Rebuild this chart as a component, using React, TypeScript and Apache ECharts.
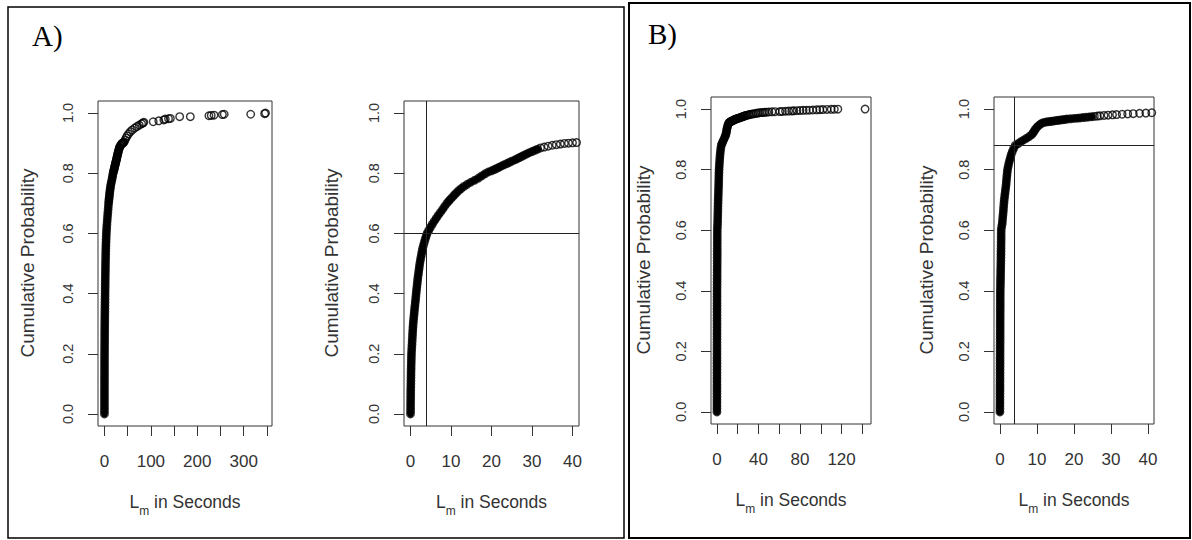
import React, { useEffect, useRef } from "react";
import * as echarts from "echarts";

// ---------- DATA ----------
// Panel A: empirical CDF of L_m (seconds, cumulative probability)
// dense stretch (prints as a solid band)
const aBody: [number, number][] = [
  [0.0, 0.0], [0.02, 0.01], [0.03, 0.02], [0.03, 0.03], [0.04, 0.04], [0.05, 0.05], [0.06, 0.06], [0.06, 0.07],
  [0.07, 0.08], [0.08, 0.09], [0.1, 0.1], [0.11, 0.11], [0.12, 0.12], [0.13, 0.13], [0.14, 0.14], [0.16, 0.15],
  [0.17, 0.16], [0.19, 0.17], [0.21, 0.18], [0.23, 0.19], [0.25, 0.2], [0.29, 0.21], [0.33, 0.22], [0.37, 0.23],
  [0.41, 0.24], [0.45, 0.25], [0.49, 0.26], [0.53, 0.27], [0.58, 0.28], [0.62, 0.29], [0.67, 0.3], [0.74, 0.31],
  [0.81, 0.32], [0.88, 0.33], [0.95, 0.34], [1.02, 0.35], [1.1, 0.36], [1.18, 0.37], [1.26, 0.38], [1.33, 0.39],
  [1.4, 0.4], [1.48, 0.41], [1.56, 0.42], [1.64, 0.43], [1.72, 0.44], [1.8, 0.45], [1.9, 0.46], [2.0, 0.47],
  [2.1, 0.48], [2.2, 0.49], [2.3, 0.5], [2.43, 0.51], [2.57, 0.52], [2.71, 0.53], [2.85, 0.54], [3.0, 0.55],
  [3.2, 0.56], [3.4, 0.57], [3.62, 0.58], [3.85, 0.59], [4.1, 0.6], [4.5, 0.61], [4.9, 0.62], [5.35, 0.63],
  [5.85, 0.64], [6.35, 0.65], [6.85, 0.66], [7.4, 0.67], [7.95, 0.68], [8.45, 0.69], [9.0, 0.7], [9.45, 0.707],
  [9.9, 0.714], [10.4, 0.721], [10.85, 0.728], [11.35, 0.735], [11.9, 0.742], [12.5, 0.749], [13.2, 0.756],
  [14.0, 0.763], [14.9, 0.77], [15.9, 0.777], [16.8, 0.784], [17.6, 0.791], [18.4, 0.798], [19.2, 0.804],
  [20.0, 0.808], [20.7, 0.812], [21.3, 0.816], [21.9, 0.82], [22.5, 0.824], [23.1, 0.828], [23.8, 0.832],
  [24.4, 0.836], [25.0, 0.84], [25.7, 0.844], [26.3, 0.848], [26.9, 0.852], [27.5, 0.856], [28.1, 0.86],
  [28.7, 0.864], [29.3, 0.868], [30.0, 0.872], [30.7, 0.876], [31.4, 0.88],
];
// looser chain of circles
const aChain: [number, number][] = [
  [32.1, 0.884], [33.0, 0.887], [34.0, 0.89], [35.0, 0.893], [36.0, 0.895], [37.0, 0.897], [38.0, 0.899],
  [39.0, 0.9], [40.0, 0.901], [41.0, 0.902], [42.5, 0.904], [44.5, 0.91], [46.5, 0.917], [49.0, 0.924],
  [52.0, 0.931], [56.0, 0.938], [60.0, 0.944], [65.0, 0.95], [70.0, 0.955], [75.0, 0.96], [80.0, 0.964],
  [83.0, 0.967], [85.0, 0.969],
];
// sparse tail
const aTail: [number, number][] = [
  [105, 0.971], [117, 0.974], [128, 0.977], [131, 0.98], [138, 0.981], [142, 0.982], [162, 0.988], [185, 0.988],
  [225, 0.991], [230, 0.992], [236, 0.993], [254, 0.995], [258, 0.996], [315, 0.996], [345, 0.998], [347, 1.0],
];

// Panel B: empirical CDF of L_m (seconds, cumulative probability)
const bBody: [number, number][] = [
  [0.0, 0.0], [0.0, 0.01], [0.0, 0.02], [0.01, 0.03], [0.01, 0.04], [0.01, 0.05], [0.01, 0.06], [0.02, 0.07],
  [0.02, 0.08], [0.02, 0.09], [0.02, 0.1], [0.03, 0.11], [0.03, 0.12], [0.03, 0.13], [0.03, 0.14], [0.04, 0.15],
  [0.04, 0.16], [0.04, 0.17], [0.04, 0.18], [0.05, 0.19], [0.05, 0.2], [0.05, 0.21], [0.05, 0.22], [0.06, 0.23],
  [0.06, 0.24], [0.06, 0.25], [0.06, 0.26], [0.07, 0.27], [0.07, 0.28], [0.07, 0.29], [0.07, 0.3], [0.08, 0.31],
  [0.08, 0.32], [0.08, 0.33], [0.08, 0.34], [0.09, 0.35], [0.09, 0.36], [0.09, 0.37], [0.09, 0.38], [0.1, 0.39],
  [0.1, 0.4], [0.12, 0.41], [0.14, 0.42], [0.15, 0.43], [0.17, 0.44], [0.18, 0.45], [0.2, 0.46], [0.21, 0.47],
  [0.23, 0.48], [0.24, 0.49], [0.26, 0.5], [0.27, 0.51], [0.28, 0.52], [0.29, 0.53], [0.3, 0.54], [0.31, 0.55],
  [0.32, 0.56], [0.33, 0.57], [0.33, 0.58], [0.34, 0.59], [0.35, 0.6], [0.45, 0.61], [0.6, 0.62], [0.68, 0.63],
  [0.75, 0.64], [0.82, 0.65], [0.9, 0.66], [0.96, 0.67], [1.02, 0.68], [1.09, 0.69], [1.16, 0.7], [1.26, 0.71],
  [1.36, 0.72], [1.46, 0.73], [1.56, 0.74], [1.66, 0.75], [1.73, 0.76], [1.8, 0.77], [1.88, 0.78], [1.96, 0.79],
  [2.05, 0.8], [2.22, 0.81], [2.4, 0.82], [2.6, 0.83], [2.82, 0.84], [3.05, 0.85], [3.35, 0.86], [3.7, 0.87],
  [4.15, 0.88], [4.9, 0.886], [5.6, 0.892], [6.4, 0.898], [7.25, 0.904], [8.0, 0.91], [8.6, 0.916], [9.0, 0.922],
  [9.3, 0.928], [9.6, 0.934], [10.0, 0.94], [10.4, 0.945], [10.9, 0.95], [11.4, 0.954], [12.2, 0.957],
  [12.8, 0.958], [13.5, 0.959], [14.0, 0.96], [14.6, 0.961], [15.2, 0.962], [15.8, 0.963], [16.4, 0.964],
  [17.0, 0.965], [17.5, 0.966], [18.1, 0.967], [19.0, 0.968], [19.9, 0.969], [20.8, 0.97], [21.6, 0.971],
  [22.4, 0.972], [23.2, 0.973], [24.0, 0.974], [24.8, 0.975],
];
const bChain: [number, number][] = [
  [25.5, 0.976], [26.3, 0.977], [27.0, 0.978], [28.1, 0.979], [29.2, 0.98], [30.4, 0.981], [31.5, 0.982],
  [33.0, 0.983], [34.5, 0.984], [36.0, 0.985], [37.7, 0.986], [39.4, 0.987], [41.0, 0.988],
];
const bTail: [number, number][] = [
  [43, 0.9885], [44.6, 0.989], [46, 0.9895], [47.8, 0.99], [50, 0.9905], [53, 0.991], [56, 0.9915], [60.6, 0.992],
  [63, 0.9925], [66, 0.993], [69, 0.9935], [72, 0.994], [74, 0.9945], [77, 0.995], [80, 0.9955], [83, 0.996],
  [86, 0.9962], [89, 0.9965], [92.4, 0.997], [96, 0.9975], [99, 0.998], [102, 0.9985], [106, 0.999],
  [110, 0.9992], [113, 0.9995], [116.4, 0.9997], [142.6, 1.0],
];

// reference lines (abline) in the zoomed plots
const aCutSeconds = 4;
const aCutProb = 0.6;
const bCutSeconds = 4;
const bCutProb = 0.88;

// tick values
const probTicks = [0, 0.2, 0.4, 0.6, 0.8, 1.0];
const aFullTicks = [0, 50, 100, 150, 200, 250, 300, 350];
const aFullLabels = [0, 100, 200, 300];
const zoomTicks = [0, 10, 20, 30, 40];
const bFullTicks = [0, 20, 40, 60, 80, 100, 120, 140];
const bFullLabels = [0, 40, 80, 120];

const panelTitles = ["A)", "B)"];
const yTitle = "Cumulative Probability";

// ---------- CHART ----------
const FONT = "Liberation Sans, Arial, sans-serif";
const TXT = "#333";

function buildOption() {
  const aData = [...aBody, ...aChain, ...aTail];
  const bData = [...bBody, ...bChain, ...bTail];
  const ecdfRange = (d: [number, number][]) => {
    const xs = d.map((p) => p[0]);
    const lo = Math.min(...xs);
    const hi = Math.max(...xs);
    const pad = (hi - lo) * 0.04;
    return [lo - pad, hi + pad];
  };
  const [aMin, aMax] = ecdfRange(aData);
  const [bMin, bMax] = ecdfRange(bData);
  const zMin = -40 * 0.04;
  const zMax = 40 * 1.04;

  const grids = [
    { left: 98, top: 101, width: 174, height: 325 },
    { left: 404, top: 101, width: 175, height: 325 },
    { left: 711, top: 97, width: 160, height: 327 },
    { left: 994, top: 97, width: 160, height: 327 },
  ];

  const xAxisDef = (gi: number, min: number, max: number, ticks: number[], labels: number[]) => ({
    type: "value",
    gridIndex: gi,
    min,
    max,
    splitLine: { show: false },
    axisLine: { show: false, onZero: false },
    axisTick: { show: true, length: 10, customValues: ticks, lineStyle: { color: TXT, width: 1 } },
    axisLabel: {
      show: true,
      customValues: labels,
      margin: 27,
      fontSize: 17,
      fontFamily: FONT,
      color: TXT,
      formatter: (v: number) => String(v),
    },
  });
  const yAxisDef = (gi: number) => ({
    type: "value",
    gridIndex: gi,
    min: -0.04,
    max: 1.04,
    splitLine: { show: false },
    axisLine: { show: false, onZero: false },
    axisTick: { show: true, length: 10, customValues: probTicks, lineStyle: { color: TXT, width: 1 } },
    axisLabel: {
      show: true,
      customValues: probTicks,
      rotate: 90,
      margin: 23,
      fontSize: 14.5,
      fontFamily: FONT,
      color: TXT,
      formatter: (v: number) => v.toFixed(1),
    },
  });

  const pointStyle = {
    symbol: "circle",
    symbolSize: 7.5,
    itemStyle: { color: "rgba(0,0,0,0)", borderColor: "#000", borderWidth: 1.4 },
  };
  const refLines = (sx: number, sp: number) => ({
    silent: true,
    symbol: ["none", "none"],
    label: { show: false },
    lineStyle: { color: "#222", width: 1, type: "solid" },
    data: [{ xAxis: sx }, { yAxis: sp }],
  });
  // the densest stretch of an ECDF prints as a solid black band of overlapping circles
  const band = (idx: number, data: [number, number][]) => ({
    type: "line",
    xAxisIndex: idx,
    yAxisIndex: idx,
    data,
    showSymbol: false,
    symbol: "none",
    lineStyle: { color: "#000", width: 6.5, cap: "round", join: "round" },
    z: 1,
  });

  const series: any[] = [
    band(0, aBody),
    band(1, aBody),
    band(2, bBody),
    band(3, bBody),
    { type: "scatter", xAxisIndex: 0, yAxisIndex: 0, data: aData, ...pointStyle, z: 2 },
    { type: "scatter", xAxisIndex: 1, yAxisIndex: 1, data: aData, ...pointStyle, z: 2, markLine: refLines(aCutSeconds, aCutProb) },
    { type: "scatter", xAxisIndex: 2, yAxisIndex: 2, data: bData, ...pointStyle, z: 2 },
    { type: "scatter", xAxisIndex: 3, yAxisIndex: 3, data: bData, ...pointStyle, z: 2, markLine: refLines(bCutSeconds, bCutProb) },
  ].map((s) => ({ ...s, clip: true, silent: true, emphasis: { disabled: true } }));

  const yTitleText = (x: number, y: number) => ({
    type: "text",
    x,
    y,
    rotation: Math.PI / 2,
    style: { text: yTitle, fontSize: 19, fontFamily: FONT, fill: TXT, align: "center", verticalAlign: "middle" },
  });
  const xTitleText = (x: number, y: number) => ({
    type: "text",
    x,
    y,
    style: {
      text: "{a|L}{b|m}{a| in Seconds}",
      align: "center",
      verticalAlign: "middle",
      rich: {
        a: { fontSize: 17.5, fontFamily: FONT, fill: TXT, lineHeight: 20, verticalAlign: "top" },
        b: { fontSize: 12, fontFamily: FONT, fill: TXT, lineHeight: 12, padding: [12, 0, 0, 0], verticalAlign: "top" },
      },
    },
  });

  const graphic: any[] = [
    { type: "rect", shape: { x: 8, y: 7, width: 616, height: 531 }, style: { fill: "none", stroke: "#000", lineWidth: 1.5 } },
    { type: "rect", shape: { x: 629, y: 3, width: 561, height: 535 }, style: { fill: "none", stroke: "#000", lineWidth: 2 } },
    { type: "text", x: 32, y: 36, style: { text: panelTitles[0], fontSize: 29, fontFamily: "Liberation Serif, Times New Roman, serif", fill: "#000", align: "left", verticalAlign: "middle" } },
    { type: "text", x: 648, y: 34, style: { text: panelTitles[1], fontSize: 29, fontFamily: "Liberation Serif, Times New Roman, serif", fill: "#000", align: "left", verticalAlign: "middle" } },
    yTitleText(27, 263),
    yTitleText(331, 263),
    yTitleText(643, 260),
    yTitleText(926, 260),
    xTitleText(185, 503),
    xTitleText(491.5, 503),
    xTitleText(791, 501),
    xTitleText(1074, 501),
  ];

  return {
    animation: false,
    backgroundColor: "#fff",
    grid: grids.map((g) => ({ ...g, show: true, borderColor: TXT, borderWidth: 1, backgroundColor: "transparent", containLabel: false })),
    xAxis: [
      xAxisDef(0, aMin, aMax, aFullTicks, aFullLabels),
      xAxisDef(1, zMin, zMax, zoomTicks, zoomTicks),
      xAxisDef(2, bMin, bMax, bFullTicks, bFullLabels),
      xAxisDef(3, zMin, zMax, zoomTicks, zoomTicks),
    ],
    yAxis: [yAxisDef(0), yAxisDef(1), yAxisDef(2), yAxisDef(3)],
    series,
    graphic,
  };
}

export default function App() {
  const ref = useRef<HTMLDivElement>(null);
  useEffect(() => {
    if (!ref.current) return;
    const chart = echarts.init(ref.current, null, { renderer: "svg" });
    chart.setOption(buildOption() as any);
    return () => chart.dispose();
  }, []);
  return (
    <div
      ref={ref}
      style={{ position: "absolute", left: 0, top: 0, width: 1192, height: 540, background: "#fff" }}
    />
  );
}
